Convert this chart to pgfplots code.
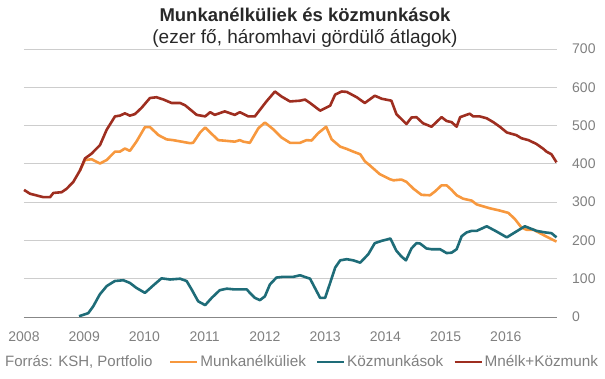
\documentclass[border=0pt]{standalone}
\usepackage{pgfplots}
\pgfplotsset{compat=1.18}
\usepackage{pgfplotstable}
\usepackage{fontspec}
\setmainfont{Liberation Sans}
\definecolor{cOrange}{RGB}{247,152,62}
\definecolor{cTeal}{RGB}{30,108,120}
\definecolor{cRed}{RGB}{158,46,32}
\definecolor{cGrid}{RGB}{205,205,205}
\definecolor{cAxis}{RGB}{135,135,135}
\definecolor{cText}{RGB}{128,128,128}
\definecolor{cTitle}{RGB}{40,40,40}

\pgfplotstableread{
m v
0 332
1.2 322
3.85 313
5.2 313
5.84 324
7.5 326
8.5 335
9.83 353
11.16 383
12.15 414
13.48 427
15.14 449
16.47 489
18.13 524
19.12 526
20.1 532
21.1 526
22.1 530
23.4 546
25.1 572
26.4 574
27.8 568
29.4 559
31.1 559
32.1 553
33.4 539
34.4 528
36.1 524
37.1 535
38.0 528
40.0 537
42.0 528
43.0 535
44.7 524
46.0 524
48.3 563
50.0 589
51.3 576
53.0 563
55.0 565
56.0 568
57.0 559
59.0 539
61.0 552
62.0 581
63.3 589
64.3 588
66.3 574
67.9 559
69.9 578
71.3 570
73.2 565
74.2 530
76.2 504
77.2 521
78.2 522
79.5 506
81.2 497
83.2 522
84.2 512
85.2 509
86.2 497
86.9 522
88.8 531
89.5 524
90.8 524
92.2 519
93.5 509
94.8 497
96.2 482
98.1 475
99.1 467
100.5 462
102.1 452
103.5 439
104.1 432
105.1 425
106.1 404
}\redtab

\pgfplotstableread{
m v
11.16 383
12.15 410
13.48 412
15.14 401
16.47 410
18.13 432
19.12 432
20.1 440
21.1 434
22.4 458
24.1 496
25.1 496
26.8 475
28.4 464
29.7 462
31.4 458
33.1 454
33.7 455
35.1 482
36.1 495
37.1 482
38.7 462
40.4 460
42.0 458
43.0 462
43.7 458
45.0 455
46.7 493
48.0 508
49.7 490
51.3 469
53.0 455
55.0 455
56.3 462
57.3 461
58.6 480
60.2 497
61.3 464
63.0 445
64.3 439
65.6 432
67.0 425
67.9 407
68.9 396
70.9 373
72.9 360
73.6 357
75.2 359
76.2 353
77.6 335
79.2 319
80.9 318
81.9 328
83.2 344
84.2 344
85.2 332
86.2 318
87.5 309
89.2 304
90.2 294
91.5 289
92.8 284
94.8 278
96.5 272
97.8 256
99.1 234
100.1 228
101.5 228
104.1 210
106.1 197
}\orangetab

\pgfplotstableread{
m v
10.96 2
12.8 10
13.8 28
15.1 59
16.5 81
18.1 94
19.8 96
21.1 89
22.4 76
24.1 63
25.8 83
27.4 101
29.1 98
31.1 100
32.4 94
33.4 72
34.7 41
36.1 31
37.4 50
39.0 70
40.4 74
42.0 72
44.4 72
45.0 63
46.0 50
47.0 44
48.0 54
49.0 85
50.3 103
51.7 105
53.7 105
55.0 109
57.0 100
59.0 50
60.0 50
61.0 89
62.0 129
63.0 148
64.3 151
65.6 148
67.0 142
68.6 164
69.9 193
71.3 199
72.2 202
73.0 205
74.2 173
75.2 158
76.1 148
77.2 179
78.2 193
78.9 192
80.2 179
81.2 177
82.9 177
84.2 167
85.2 168
86.2 177
87.2 211
88.2 221
89.2 225
90.2 225
92.2 237
94.2 223
96.2 208
97.8 221
99.8 237
102.1 225
103.8 221
105.1 219
106.1 208
}\tealtab

\begin{document}
\begin{tikzpicture}
\path[use as bounding box] (0,0) rectangle (605pt,378pt);
\begin{axis}[
  at={(24pt,61pt)}, anchor=south west,
  scale only axis, width=533pt, height=268pt,
  xmin=0, xmax=106.2, ymin=0, ymax=700,
  axis y line*=right, axis x line*=bottom,
  axis line style={draw=none},
  xtick={0,12,24,36,48,60,72,84,96},
  xticklabels={2008,2009,2010,2011,2012,2013,2014,2015,2016},
  ytick={0,100,...,700},
  major tick length=0pt,
  ymajorgrids, grid style={cGrid, line width=0.9pt},
  tick label style={font=\fontsize{14}{16}\selectfont, text=cText},
  /pgf/number format/assume math mode=true,
  xticklabel style={anchor=north, inner sep=0pt, yshift=-15pt},
  yticklabel style={anchor=west, inner sep=0pt, xshift=15pt},
  legend columns=3,
  legend style={at={(axis description cs:0.272,-0.168)}, anchor=west,
    draw=none, fill=none, inner sep=0pt,
    nodes={inner sep=0pt, text=cText, font=\fontsize{15.3}{17}\selectfont},
    /tikz/every even column/.append style={column sep=10pt}},
  legend image code/.code={\draw[#1] (0pt,0pt) -- (27pt,0pt); \path[draw=none,fill=none] (0pt,-4pt) rectangle (30pt,4pt);},
  every axis plot/.append style={line width=2.6pt, line join=round},
  clip=false,
]
\addplot[cOrange] table[x=m,y=v] {\orangetab};
\addlegendentry{Munkanélküliek}
\addplot[cTeal] table[x=m,y=v] {\tealtab};
\addlegendentry{Közmunkások}
\addplot[cRed] table[x=m,y=v] {\redtab};
\addlegendentry{Mnélk+Közmunk}
\draw[cAxis, line width=1pt] (axis cs:0,0) -- (axis cs:106.2,0);
\end{axis}
\node[font=\bfseries\fontsize{18.5}{21}\selectfont, text=cTitle] at (305pt,363pt) {Munkanélküliek és közmunkások};
\node[font=\fontsize{19}{21}\selectfont, text=cTitle] at (305pt,340pt) {(ezer fő, háromhavi gördülő átlagok)};
\node[anchor=west, inner sep=0pt, font=\fontsize{15}{17}\selectfont, text=cText] at (5pt,16pt) {Forrás: KSH, Portfolio};
\end{tikzpicture}
\end{document}
